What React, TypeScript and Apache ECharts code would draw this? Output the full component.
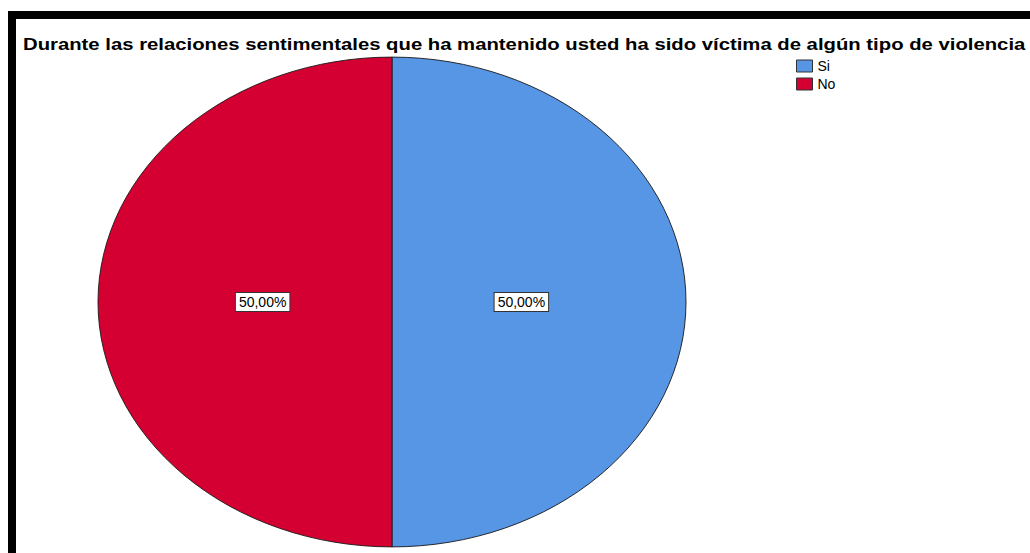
import React, { useEffect, useRef } from "react";
import * as echarts from "echarts";

const titleText =
  "Durante las relaciones sentimentales que ha mantenido usted ha sido víctima de algún tipo de violencia";
const categories = ["Si", "No"];
const values = [50, 50];
const colors = ["#5795E5", "#D50032"];

const CX = 392;
const CY = 302;
const RX = 294;
const RY = 245;
const FONT = "Liberation Sans, Arial, sans-serif";
const TITLE_FONT = `bold 16px ${FONT}`;
const TITLE_WIDTH = 1003;

function measure(text: string, font: string): number {
  const c = document.createElement("canvas").getContext("2d");
  if (!c) return 800;
  c.font = font;
  return c.measureText(text).width;
}

export default function App() {
  const ref = useRef<HTMLDivElement>(null);
  useEffect(() => {
    if (!ref.current) return;
    const chart = echarts.init(ref.current, null, { renderer: "svg" });
    const total = values.reduce((a, b) => a + b, 0);
    const titleScale = TITLE_WIDTH / measure(titleText, TITLE_FONT);
    const series = categories.map((name, i) => {
      const before = values.slice(0, i).reduce((a, b) => a + b, 0);
      return {
        type: "custom",
        name,
        coordinateSystem: "none",
        data: [values[i]],
        itemStyle: { color: colors[i] },
        renderItem: (params: any, api: any) => {
          const v = api.value(0);
          const start = -Math.PI / 2 + (2 * Math.PI * before) / total;
          const end = start + (2 * Math.PI * v) / total;
          const mid = (start + end) / 2;
          const pct = ((v / total) * 100).toFixed(2).replace(".", ",") + "%";
          return {
            type: "group",
            children: [
              {
                type: "sector",
                x: CX,
                y: CY,
                scaleY: RY / RX,
                shape: { cx: 0, cy: 0, r: RX, r0: 0, startAngle: start, endAngle: end, clockwise: true },
                style: { fill: colors[i], stroke: "#1a1a1a", lineWidth: 1, strokeNoScale: true },
              },
              {
                type: "text",
                x: CX + 0.44 * RX * Math.cos(mid),
                y: CY + 0.44 * RY * Math.sin(mid),
                z2: 10,
                style: {
                  text: pct,
                  fill: "#000",
                  font: `14px ${FONT}`,
                  align: "center",
                  verticalAlign: "middle",
                  backgroundColor: "#fff",
                  borderColor: "#333",
                  borderWidth: 1,
                  padding: [2, 3, 2, 3],
                },
              },
            ],
          };
        },
      };
    });
    chart.setOption({
      animation: false,
      backgroundColor: "#fff",
      legend: {
        data: categories,
        orient: "vertical",
        left: 796,
        top: 59,
        padding: 0,
        itemWidth: 16,
        itemHeight: 12,
        itemGap: 4,
        icon: "rect",
        itemStyle: { borderColor: "#333", borderWidth: 1 },
        textStyle: { fontSize: 14, lineHeight: 12, color: "#000", fontFamily: FONT },
        selectedMode: false,
      },
      graphic: [
        { type: "rect", shape: { x: 8, y: 11, width: 1022, height: 8 }, style: { fill: "#000" } },
        { type: "rect", shape: { x: 8, y: 11, width: 8, height: 542 }, style: { fill: "#000" } },
        {
          type: "text",
          x: 23,
          y: 44,
          scaleX: titleScale,
          style: {
            text: titleText,
            font: TITLE_FONT,
            fill: "#000",
            align: "left",
            verticalAlign: "middle",
          },
        },
      ],
      series,
    });
    return () => chart.dispose();
  }, []);
  return (
    <div
      ref={ref}
      style={{ position: "fixed", left: 0, top: 0, width: 1030, height: 553 }}
    />
  );
}
